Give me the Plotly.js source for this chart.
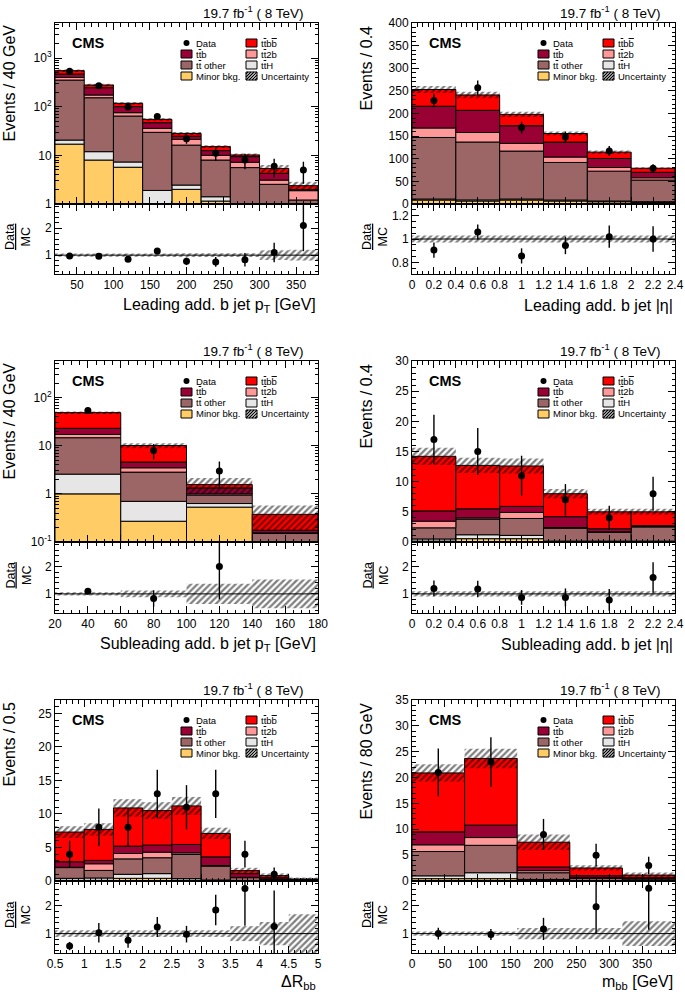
<!DOCTYPE html>
<html>
<head>
<meta charset="utf-8">
<script src="https://cdn.plot.ly/plotly-3.0.1.min.js"></script>
<style>html,body{margin:0;padding:0;background:#fff}#chart{width:685px;height:994px}</style>
</head>
<body>
<div id="chart"></div>
<script>
// ---- values ----
// stack order, bottom to top: minor bkg, ttH, tt other, tt2b, ttb, ttbb

// leading add. b jet pT (40 GeV bins)
const lptCenters = [40, 80, 120, 160, 200, 240, 280, 320, 360];
const lptMinor = [17, 8.0, 5.7, 0.7, 2.0, 1.15, 0.5, 0.4, 0.3];
const lptTtH = [3.6, 3.9, 1.6, 1.2, 0.45, 0.26, 0.3, 0.3, 0.2];
const lptOther = [332, 141, 57, 27.8, 13.8, 6.6, 4.8, 1.84, 0.71];
const lptTt2b = [47, 21, 11, 6.2, 5.0, 2.0, 1.6, 0.56, 0.67];
const lptTtb = [69, 72, 25, 11, 3.5, 2.5, 2.2, 1.17, 0.1];
const lptTtbb = [81, 33, 17, 8, 3.5, 2.6, 0.8, 1.1, 0.4];
const lptData = [533, 268, 99, 63, 22, 11, 8, 6, 5];
const lptDataErr = [23, 16, 10, 8, 4.7, 3.3, 2.8, 2.5, 2.4];
const lptRatio = [0.97, 0.96, 0.85, 1.15, 0.77, 0.75, 0.83, 1.1, 2.1];
const lptRatioErr = [0.04, 0.05, 0.07, 0.1, 0.14, 0.18, 0.25, 0.36, 0.95];
const lptRelUnc = [0.06, 0.06, 0.06, 0.06, 0.07, 0.07, 0.07, 0.18, 0.2];

// leading add. b jet |eta| (0.4 bins)
const letaCenters = [0.2, 0.6, 1.0, 1.4, 1.8, 2.2];
const letaMinor = [8.8, 6.6, 8.8, 6.6, 5, 3.7];
const letaTtH = [2.2, 2.4, 2.2, 2.2, 1.6, 1.3];
const letaOther = [136, 128, 106, 83, 66, 48];
const letaTt2b = [21, 21, 17, 12, 8, 5];
const letaTtb = [48, 49, 39, 33, 20, 12];
const letaTtbb = [37, 34, 25, 19, 14, 9];
const letaData = [229, 257, 169, 148, 117, 79];
const letaDataErr = [15, 16, 13, 12, 11, 9];
const letaRatio = [0.905, 1.06, 0.855, 0.945, 1.02, 1.0];
const letaRatioErr = [0.065, 0.065, 0.065, 0.075, 0.095, 0.11];
const letaRelUnc = [0.03, 0.03, 0.03, 0.03, 0.03, 0.03];

// subleading add. b jet pT (40 GeV bins)
const sptCenters = [40, 80, 120, 160];
const sptMinor = [1.0, 0.27, 0.53, 0.02];
const sptTtH = [1.57, 0.43, 0.1, 0.01];
const sptOther = [12.1, 2.13, 0.31, 0.12];
const sptTt2b = [2.5, 0.65, 0.06, 0.005];
const sptTtb = [5.8, 1.1, 0.33, 0.02];
const sptTtbb = [25.7, 5.5, 0.23, 0.2];
const sptData = [54, 8, 3, null];
const sptDataErr = [7.3, 2.8, 1.7, 0];
const sptRatio = [1.1, 0.83, 2.0, null];
const sptRatioErr = [0.1, 0.3, 1.2, 0];
const sptRelUnc = [0.06, 0.12, 0.37, 0.53];

// subleading add. b jet |eta| (0.4 bins)
const setaCenters = [0.2, 0.6, 1.0, 1.4, 1.8, 2.2];
const setaMinor = [0.15, 0.55, 0.55, 0.05, 0.05, 0.05];
const setaTtH = [0.35, 0.65, 0.55, 0.1, 0.1, 0.1];
const setaOther = [1.85, 2.6, 2.8, 2.15, 1.45, 2.35];
const setaTt2b = [1.1, 0.2, 1.0, 0.1, 0.1, 0.1];
const setaTtb = [1.7, 1.5, 1.0, 1.8, 0.5, 0.1];
const setaTtbb = [9.05, 7.2, 6.7, 3.8, 2.8, 2.3];
const setaData = [17, 15, 11, 7, 4, 8];
const setaDataErr = [4.1, 3.9, 3.3, 2.6, 2.0, 2.8];
const setaRatio = [1.2, 1.18, 0.87, 0.87, 0.78, 1.6];
const setaRatioErr = [0.29, 0.3, 0.27, 0.33, 0.4, 0.56];
const setaRelUnc = [0.1, 0.1, 0.1, 0.1, 0.1, 0.1];

// delta R bb (0.5 bins)
const drCenters = [0.75, 1.25, 1.75, 2.25, 2.75, 3.25, 3.75, 4.25, 4.75];
const drMinor = [0.1, 0.1, 0.4, 0.4, 0.1, 0.05, 0.02, 0.01, 0.01];
const drTtH = [0.3, 0.35, 0.6, 0.7, 0.25, 0.1, 0.03, 0.02, 0.01];
const drOther = [1.6, 1.13, 2.3, 2.37, 3.61, 2.08, 0.45, 0.22, 0.13];
const drTt2b = [0.05, 0.99, 0.8, 0.83, 0.24, 0.07, 0.05, 0.05, 0.02];
const drTtb = [0.82, 0.5, 1.1, 1.05, 1.25, 1.3, 0.55, 0.2, 0.03];
const drTtbb = [4.43, 4.63, 5.7, 5.15, 5.75, 3.5, 0.45, 0.3, 0.1];
const drData = [4, 8, 8, 13, 11, 13, 4, 1, null];
const drDataErr = [2.0, 2.8, 2.8, 3.6, 3.3, 3.6, 2.0, 1.0, 0];
const drRatio = [0.55, 1.03, 0.76, 1.24, 0.98, 1.85, 2.63, 1.26, null];
const drRatioErr = [0.15, 0.35, 0.27, 0.36, 0.3, 0.55, 1.35, 1.3, 0];
const drRelUnc = [0.12, 0.12, 0.12, 0.12, 0.12, 0.12, 0.27, 0.42, 0.7];

// m_bb (80 GeV bins)
const mbbCenters = [40, 120, 200, 280, 360];
const mbbMinor = [0.45, 0.45, 0.1, 0.05, 0.02];
const mbbTtH = [0.55, 1.15, 0.2, 0.05, 0.03];
const mbbOther = [4.7, 5.3, 1.3, 0.42, 0.35];
const mbbTt2b = [1.3, 1.5, 0.4, 0.1, 0.05];
const mbbTtb = [2.5, 2.4, 0.7, 0.4, 0.2];
const mbbTtbb = [11.4, 12.9, 4.8, 1.5, 0.5];
const mbbData = [21, 23, 9, 5, 3];
const mbbDataErr = [4.6, 4.8, 3.0, 2.2, 1.7];
const mbbRatio = [1.0, 0.97, 1.17, 1.97, 2.64];
const mbbRatioErr = [0.21, 0.2, 0.4, 0.95, 1.5];
const mbbRelUnc = [0.08, 0.08, 0.2, 0.2, 0.45];

// log axis tick labels
const logTicksA = [1, 10, 100, 1000];
const logTextA = ['1', '10', '10<sup>2</sup>', '10<sup>3</sup>'];
const logTicksB = [0.1, 1, 10, 100];
const logTextB = ['10<sup>-1</sup>', '1', '10', '10<sup>2</sup>'];

const procColors = ['#ffcc66', '#e6e6e6', '#9c6666', '#ff9999', '#990033', '#ff0000'];
// t-bar / b-bar written with an overline span
const TB = '<span style="text-decoration:overline">t</span>';
const BB = '<span style="text-decoration:overline">b</span>';
const legendLabels = ['Data', 't' + TB + 'b' + BB, 't' + TB + 'b', 't' + TB + '2b', 't' + TB + ' other', 't' + TB + 'H', 'Minor bkg.', 'Uncertainty'];
const legendKinds = ['data', 5, 4, 3, 2, 1, 0, 'unc'];

// ---- page geometry (pixels) ----
const W = 685, H = 994;
const FONT = 'Liberation Sans, Arial, Helvetica, sans-serif';
const colL = [55, 412], colR = [318, 675];
const rowTop = [23, 361, 700], rowMid = [204, 542, 881], rowBot = [274, 613, 953];
const xTitleY = [305, 644, 982];

const panels = [
    {row: 0, col: 0, centers: lptCenters, width: 40,
     stack: [lptMinor, lptTtH, lptOther, lptTt2b, lptTtb, lptTtbb],
     data: lptData, dataErr: lptDataErr, ratio: lptRatio, ratioErr: lptRatioErr, relUnc: lptRelUnc,
     xRange: [20, 380], xDtick: 50, xMinor: 10, log: true, yRange: [0, 3.72],
     yTickVals: logTicksA, yTickText: logTextA, rRange: [0.3, 2.9], rDtick: 1, rMinor: 0.2,
     yTitle: 'Events / 40 GeV', xTitle: 'Leading add. b jet p<sub>T</sub> [GeV]'},
    {row: 0, col: 1, centers: letaCenters, width: 0.4,
     stack: [letaMinor, letaTtH, letaOther, letaTt2b, letaTtb, letaTtbb],
     data: letaData, dataErr: letaDataErr, ratio: letaRatio, ratioErr: letaRatioErr, relUnc: letaRelUnc,
     xRange: [0, 2.4], xDtick: 0.2, xMinor: 0.05, log: false, yRange: [0, 400], yDtick: 50, yMinor: 10,
     rRange: [0.7, 1.3], rDtick: 0.2, rMinor: 0.05,
     yTitle: 'Events / 0.4', xTitle: 'Leading add. b jet |\u03b7|'},
    {row: 1, col: 0, centers: sptCenters, width: 40,
     stack: [sptMinor, sptTtH, sptOther, sptTt2b, sptTtb, sptTtbb],
     data: sptData, dataErr: sptDataErr, ratio: sptRatio, ratioErr: sptRatioErr, relUnc: sptRelUnc,
     xRange: [20, 180], xDtick: 20, xMinor: 5, log: true, yRange: [-1, 2.76],
     yTickVals: logTicksB, yTickText: logTextB, rRange: [0.3, 2.9], rDtick: 1, rMinor: 0.2,
     yTitle: 'Events / 40 GeV', xTitle: 'Subleading add. b jet p<sub>T</sub> [GeV]'},
    {row: 1, col: 1, centers: setaCenters, width: 0.4,
     stack: [setaMinor, setaTtH, setaOther, setaTt2b, setaTtb, setaTtbb],
     data: setaData, dataErr: setaDataErr, ratio: setaRatio, ratioErr: setaRatioErr, relUnc: setaRelUnc,
     xRange: [0, 2.4], xDtick: 0.2, xMinor: 0.05, log: false, yRange: [0, 30], yDtick: 5, yMinor: 1,
     rRange: [0.3, 2.9], rDtick: 1, rMinor: 0.2,
     yTitle: 'Events / 0.4', xTitle: 'Subleading add. b jet |\u03b7|'},
    {row: 2, col: 0, centers: drCenters, width: 0.5,
     stack: [drMinor, drTtH, drOther, drTt2b, drTtb, drTtbb],
     data: drData, dataErr: drDataErr, ratio: drRatio, ratioErr: drRatioErr, relUnc: drRelUnc,
     xRange: [0.5, 5], xDtick: 0.5, xMinor: 0.1, log: false, yRange: [0, 27], yDtick: 5, yMinor: 1,
     rRange: [0.3, 2.9], rDtick: 1, rMinor: 0.2,
     yTitle: 'Events / 0.5', xTitle: '\u0394R<sub>bb</sub>'},
    {row: 2, col: 1, centers: mbbCenters, width: 80,
     stack: [mbbMinor, mbbTtH, mbbOther, mbbTt2b, mbbTtb, mbbTtbb],
     data: mbbData, dataErr: mbbDataErr, ratio: mbbRatio, ratioErr: mbbRatioErr, relUnc: mbbRelUnc,
     xRange: [0, 400], xDtick: 50, xMinor: 10, log: false, yRange: [0, 35], yDtick: 5, yMinor: 1,
     rRange: [0.3, 2.9], rDtick: 1, rMinor: 0.2,
     yTitle: 'Events / 80 GeV', xTitle: 'm<sub>bb</sub> [GeV]'}
];

function px(x) { return x / W; }
function py(y) { return 1 - y / H; }
function sfx(n) { return n === 1 ? '' : String(n); }

const traces = [];
const shapes = [];
const annotations = [];
const layout = {
    width: W, height: H,
    margin: {l: 0, r: 0, t: 0, b: 0},
    paper_bgcolor: 'white', plot_bgcolor: 'white',
    barmode: 'overlay', showlegend: false,
    font: {family: FONT, color: 'black', size: 12}
};

const hatch = {shape: '/', fgcolor: 'black', bgcolor: 'rgba(0,0,0,0)', size: 4.5, solidity: 0.5, fillmode: 'overlay'};

function axisBase() {
    return {
        showline: true, linecolor: 'black', linewidth: 1, mirror: 'ticks',
        ticks: 'inside', ticklen: 7, tickcolor: 'black', tickwidth: 1,
        showgrid: false, zeroline: false, fixedrange: true,
        tickfont: {family: FONT, size: 12, color: 'black'}
    };
}

panels.forEach((p, i) => {
    const m = 2 * i + 1, r = 2 * i + 2;
    const L = colL[p.col], R = colR[p.col];
    const T = rowTop[p.row], M = rowMid[p.row], B = rowBot[p.row];
    const xm = 'x' + sfx(m), ym = 'y' + sfx(m), xr = 'x' + sfx(r), yr = 'y' + sfx(r);

    // axes
    const xMain = Object.assign(axisBase(), {
        domain: [px(L), px(R)], anchor: ym, range: p.xRange, dtick: p.xDtick, tick0: 0,
        showticklabels: false,
        minor: {ticks: 'inside', ticklen: 3.5, dtick: p.xMinor, tickcolor: 'black', showgrid: false}
    });
    const xRat = Object.assign(axisBase(), {
        domain: [px(L), px(R)], anchor: yr, range: p.xRange, dtick: p.xDtick, tick0: 0,
        minor: {ticks: 'inside', ticklen: 3.5, dtick: p.xMinor, tickcolor: 'black', showgrid: false}
    });
    const yMain = Object.assign(axisBase(), {
        domain: [py(M), py(T)], anchor: xm, range: p.yRange
    });
    if (p.log) {
        Object.assign(yMain, {type: 'log', tickmode: 'array', tickvals: p.yTickVals, ticktext: p.yTickText,
            minor: {ticks: 'inside', ticklen: 3.5, dtick: 'D1', tickcolor: 'black', showgrid: false}});
    } else {
        Object.assign(yMain, {dtick: p.yDtick, tick0: 0,
            minor: {ticks: 'inside', ticklen: 3.5, dtick: p.yMinor, tickcolor: 'black', showgrid: false}});
    }
    const yRat = Object.assign(axisBase(), {
        domain: [py(B), py(M)], anchor: xr, range: p.rRange, dtick: p.rDtick, tick0: 0,
        minor: {ticks: 'inside', ticklen: 3.5, dtick: p.rMinor, tickcolor: 'black', showgrid: false}
    });
    layout['xaxis' + sfx(m)] = xMain;
    layout['yaxis' + sfx(m)] = yMain;
    layout['xaxis' + sfx(r)] = xRat;
    layout['yaxis' + sfx(r)] = yRat;

    // stacked histograms
    let base = p.centers.map(() => 0);
    p.stack.forEach((vals, k) => {
        traces.push({
            type: 'bar', x: p.centers, y: vals, base: base.slice(), width: p.width,
            xaxis: xm, yaxis: ym, hoverinfo: 'skip',
            marker: {color: procColors[k], line: {color: 'black', width: 1}}
        });
        base = base.map((b, j) => b + vals[j]);
    });
    const total = base;
    const unc = total.map((t, j) => t * p.relUnc[j]);
    traces.push({
        type: 'bar', x: p.centers, y: unc.map(u => 2 * u), base: total.map((t, j) => t - unc[j]),
        width: p.width, xaxis: xm, yaxis: ym, hoverinfo: 'skip',
        marker: {color: 'rgba(0,0,0,0)', line: {width: 0}, pattern: hatch}
    });
    traces.push({
        type: 'scatter', mode: 'markers', x: p.centers, y: p.data, xaxis: xm, yaxis: ym, hoverinfo: 'skip',
        marker: {color: 'black', size: 7},
        error_y: {type: 'data', array: p.dataErr, color: 'black', thickness: 1.4, width: 0}
    });

    // ratio panel
    traces.push({
        type: 'bar', x: p.centers, y: p.relUnc.map(u => 2 * u), base: p.relUnc.map(u => 1 - u),
        width: p.width, xaxis: xr, yaxis: yr, hoverinfo: 'skip',
        marker: {color: 'rgba(0,0,0,0)', line: {width: 0}, pattern: hatch}
    });
    traces.push({
        type: 'scatter', mode: 'markers', x: p.centers, y: p.ratio, xaxis: xr, yaxis: yr, hoverinfo: 'skip',
        marker: {color: 'black', size: 7},
        error_y: {type: 'data', array: p.ratioErr, color: 'black', thickness: 1.4, width: 0}
    });
    shapes.push({type: 'line', xref: xr + ' domain', yref: yr, x0: 0, x1: 1, y0: 1, y1: 1,
        line: {color: 'black', width: 1}});

    // texts
    annotations.push({xref: 'paper', yref: 'paper', x: px(L + 15), y: py(T + 20), xanchor: 'left', yanchor: 'middle',
        text: '<b>CMS</b>', showarrow: false, font: {family: FONT, size: 14.5, color: 'black'}});
    annotations.push({xref: 'paper', yref: 'paper', x: px(R - 13), y: py(T - 11), xanchor: 'right', yanchor: 'middle',
        text: '19.7 fb<sup>-1</sup> ( 8 TeV)', showarrow: false, font: {family: FONT, size: 13.5, color: 'black'}});
    annotations.push({xref: 'paper', yref: 'paper', x: px(L - 46), y: py(T), xanchor: 'center', yanchor: 'top',
        textangle: -90, text: p.yTitle, showarrow: false, font: {family: FONT, size: 16, color: 'black'}});
    annotations.push({xref: 'paper', yref: 'paper', x: px(L - 37), y: py((M + B) / 2 - 2), xanchor: 'center', yanchor: 'middle',
        textangle: -90, text: '<u>Data</u><br>MC', showarrow: false, font: {family: FONT, size: 12.5, color: 'black'}});
    annotations.push({xref: 'paper', yref: 'paper', x: px(R), y: py(xTitleY[p.row]), xanchor: 'right', yanchor: 'middle',
        text: p.xTitle, showarrow: false, font: {family: FONT, size: 16, color: 'black'}});

    // legend, drawn by hand: 2 columns x 4 rows
    legendLabels.forEach((lab, e) => {
        const col = e % 2, rowI = Math.floor(e / 2);
        const cy = T + 20 + 11 * rowI;
        const bx0 = L + (col === 0 ? 126 : 191), bx1 = bx0 + 11;
        const kind = legendKinds[e];
        if (kind === 'data') {
            const cx = (bx0 + bx1) / 2;
            shapes.push({type: 'circle', xref: 'paper', yref: 'paper',
                x0: px(cx - 3), x1: px(cx + 3), y0: py(cy + 3), y1: py(cy - 3),
                fillcolor: 'black', line: {color: 'black', width: 0}});
        } else if (kind === 'unc') {
            shapes.push({type: 'rect', xref: 'paper', yref: 'paper',
                x0: px(bx0), x1: px(bx1), y0: py(cy + 4), y1: py(cy - 4),
                fillcolor: 'white', line: {color: 'black', width: 1}});
            let path = '';
            for (let c = -6; c <= 9; c += 3) {
                const h0 = Math.max(0, -c), h1 = Math.min(8, 11 - c);
                if (h1 <= h0) continue;
                path += 'M' + px(bx0 + c + h0) + ',' + py(cy + 4 - h0) + 'L' + px(bx0 + c + h1) + ',' + py(cy + 4 - h1);
            }
            shapes.push({type: 'path', xref: 'paper', yref: 'paper', path: path, line: {color: 'black', width: 1.2}});
        } else {
            shapes.push({type: 'rect', xref: 'paper', yref: 'paper',
                x0: px(bx0), x1: px(bx1), y0: py(cy + 4), y1: py(cy - 4),
                fillcolor: procColors[kind], line: {color: 'black', width: 1}});
        }
        annotations.push({xref: 'paper', yref: 'paper', x: px(bx1 + 2), y: py(cy), xanchor: 'left', yanchor: 'middle',
            text: lab, showarrow: false, font: {family: FONT, size: 9.5, color: 'black'}});
    });
});

layout.shapes = shapes;
layout.annotations = annotations;

Plotly.newPlot('chart', traces, layout, {displayModeBar: false, staticPlot: true});
</script>
</body>
</html>
